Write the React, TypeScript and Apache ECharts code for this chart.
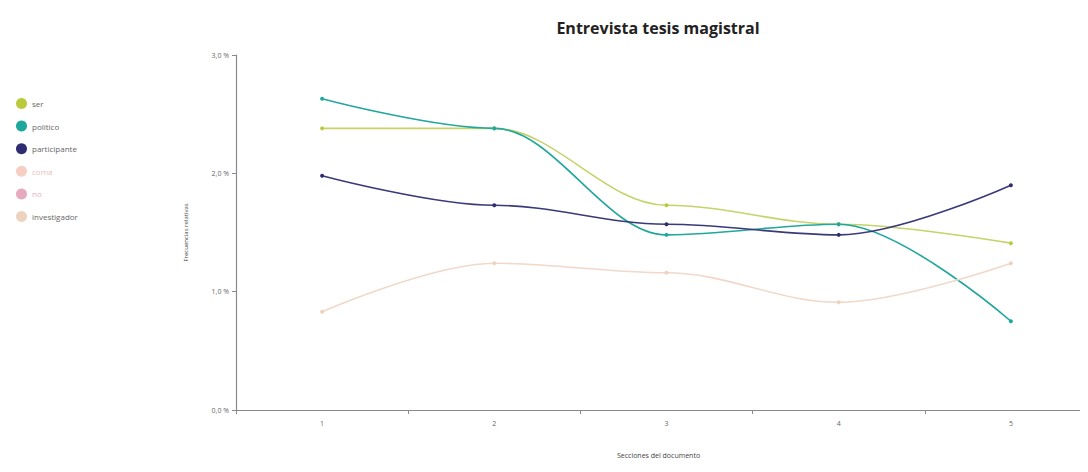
import React, { useEffect, useRef } from "react";
import * as echarts from "echarts";

const categories = ["1", "2", "3", "4", "5"];
const seriesNames = ["ser", "político", "participante", "coma", "no", "investigador"];
const serValues = [2.38, 2.38, 1.73, 1.57, 1.41];
const politicoValues = [2.63, 2.38, 1.48, 1.57, 0.75];
const participanteValues = [1.98, 1.73, 1.57, 1.48, 1.9];
const comaValues: (number | null)[] = [];
const noValues: (number | null)[] = [];
const investigadorValues = [0.83, 1.24, 1.16, 0.91, 1.24];
const yTicks = [0, 1, 2, 3];

const colors = ["#b9cb3c", "#1ea79c", "#2f2c70", "#f5cfc4", "#e6aabf", "#edd3bf"];
const lineColors = ["#c5d36a", "#22a79c", "#3a3979", "#f5cfc4", "#e6aabf", "#f1d8c8"];
const legendTextColors = ["#666", "#666", "#666", "#e9c0b8", "#e3b0c2", "#666"];

export default function App() {
  const ref = useRef<HTMLDivElement>(null);
  useEffect(() => {
    if (!ref.current) return;
    const chart = echarts.init(ref.current, undefined, { renderer: "svg" });
    const data = [serValues, politicoValues, participanteValues, comaValues, noValues, investigadorValues];
    chart.setOption({
      animation: false,
      textStyle: { fontFamily: "Open Sans" },
      title: {
        text: "Entrevista tesis magistral",
        left: 645,
        textAlign: "center",
        top: 7,
        textStyle: { fontSize: 16, fontWeight: "bold", color: "#222", fontFamily: "Open Sans" },
      },
      legend: {
        orient: "vertical",
        left: 3,
        top: 85,
        icon: "circle",
        itemWidth: 11,
        itemHeight: 11,
        itemGap: 11.6,
        selectedMode: false,
        data: seriesNames.map((n, i) => ({
          name: n,
          itemStyle: { color: colors[i] },
          textStyle: { color: legendTextColors[i], fontSize: 8 },
        })),
        textStyle: { fontSize: 8, color: "#666" },
      },
      grid: { left: 228, right: 11, top: 47, bottom: 43, containLabel: false },
      xAxis: {
        type: "category",
        data: categories,
        boundaryGap: true,
        name: "Secciones del documento",
        nameLocation: "middle",
        nameGap: 42,
        nameTextStyle: { fontSize: 7, color: "#444", padding: [0, 16, 0, 0] },
        axisLine: { lineStyle: { color: "#8a8a8a", width: 1.2 } },
        axisTick: { show: true, length: 4, lineStyle: { color: "#8a8a8a" } },
        axisLabel: { fontSize: 7, color: "#666", margin: 10 },
        splitLine: { show: false },
      },
      yAxis: {
        type: "value",
        min: yTicks[0],
        max: yTicks[yTicks.length - 1],
        interval: 1,
        name: "Frecuencias relativas",
        nameLocation: "middle",
        nameGap: 47,
        nameTextStyle: { fontSize: 6, color: "#444" },
        axisLine: { show: true, lineStyle: { color: "#8a8a8a", width: 1.2 } },
        axisTick: { show: true, length: 4, lineStyle: { color: "#8a8a8a" } },
        axisLabel: {
          fontSize: 7,
          color: "#666",
          margin: 7,
          formatter: (v: number) => v.toFixed(1).replace(".", ",") + " %",
        },
        splitLine: { show: false },
      },
      series: seriesNames.map((n, i) => ({
        name: n,
        type: "line",
        data: data[i],
        smooth: 0.35,
        smoothMonotone: "x",
        symbol: "circle",
        symbolSize: 4,
        itemStyle: { color: colors[i] },
        lineStyle: { color: lineColors[i], width: 1.6 },
        emphasis: { disabled: true },
      })),
    });
    return () => chart.dispose();
  }, []);
  return (
    <div style={{ width: 1080, height: 456, overflow: "hidden" }}>
      <div ref={ref} style={{ width: 1100, height: 456 }} />
    </div>
  );
}
